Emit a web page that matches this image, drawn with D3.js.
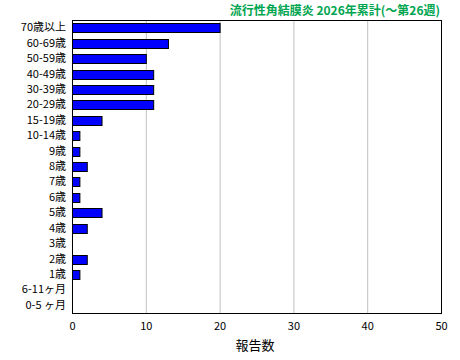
<!DOCTYPE html>
<html><head><meta charset="utf-8">
<script src="https://cdn.jsdelivr.net/npm/d3@7"></script>
<style>body{margin:0;background:#fff}svg{display:block}</style>
</head><body>
<script>
const categories = ["70歳以上","60-69歳","50-59歳","40-49歳","30-39歳","20-29歳","15-19歳","10-14歳","9歳","8歳","7歳","6歳","5歳","4歳","3歳","2歳","1歳","6-11ヶ月","0-5 ヶ月"];
const values = [20,13,10,11,11,11,4,1,1,2,1,1,4,2,0,2,1,0,0];
const xTicks = [0,10,20,30,40,50];
const title = "流行性角結膜炎 2026年累計(〜第26週)";
const xLabel = "報告数";

const W=460,H=360, m={l:72,r:19,t:20,b:47};
const svg=d3.select("body").append("svg").attr("width",W).attr("height",H);
const font="'Noto Sans CJK JP','Noto Sans',sans-serif";
const x=d3.scaleLinear().domain([0,50]).range([m.l,W-m.r]);
const y=d3.scaleBand().domain(categories).range([m.t,H-m.b]).paddingInner(0.42).paddingOuter(0.21);

// grid
svg.append("g").selectAll("line").data(xTicks.filter(t=>t>0&&t<50)).join("line")
 .attr("x1",d=>x(d)+0.5).attr("x2",d=>x(d)+0.5).attr("y1",m.t).attr("y2",H-m.b)
 .attr("stroke","#c0c0c0").attr("stroke-width",1);

// bars
svg.append("g").selectAll("rect").data(categories.map((c,i)=>({c,v:values[i]})).filter(d=>d.v>0)).join("rect")
 .attr("x",x(0)+0.5).attr("y",d=>Math.round(y(d.c))+0.5)
 .attr("width",d=>x(d.v)-x(0)).attr("height",Math.round(y.bandwidth()))
 .attr("fill","#0000ff").attr("stroke","#000").attr("stroke-width",1);

// frame
svg.append("rect").attr("x",m.l+0.5).attr("y",m.t+0.5).attr("width",W-m.r-m.l).attr("height",H-m.b-m.t)
 .attr("fill","none").attr("stroke","#000").attr("stroke-width",1);

// axes
const xa=svg.append("g").attr("transform",`translate(0,${H-m.b})`)
 .call(d3.axisBottom(x).tickValues(xTicks).tickSize(0).tickPadding(9));
xa.select(".domain").remove();
xa.selectAll("text").attr("font-family",font).attr("font-size",11).attr("fill","#000");

const ya=svg.append("g").attr("transform",`translate(${m.l},0)`)
 .call(d3.axisLeft(y).tickSize(0).tickPadding(6));
ya.select(".domain").remove();
ya.selectAll("text").attr("font-family",font).attr("font-size",11).attr("fill","#000");

svg.append("text").attr("x",440).attr("y",15).attr("text-anchor","end")
 .attr("font-family",font).attr("font-size",12).attr("font-weight","bold").attr("fill","#00a550").text(title);

svg.append("text").attr("x",255).attr("y",350).attr("text-anchor","middle")
 .attr("font-family",font).attr("font-size",13).attr("fill","#000").text(xLabel);
</script>
</body></html>
